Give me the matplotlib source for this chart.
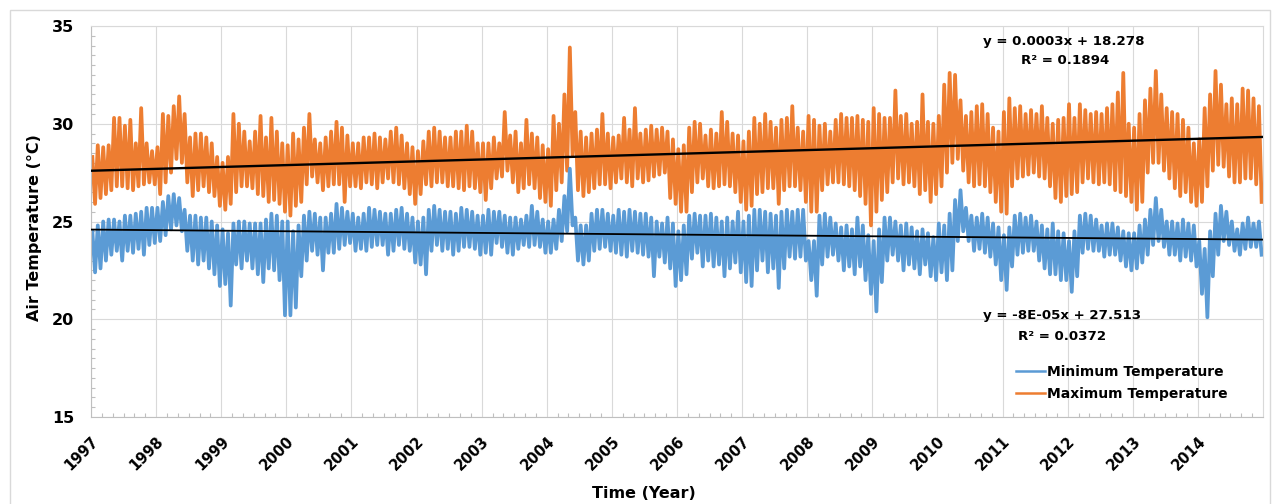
import numpy as np
import matplotlib.pyplot as plt
import matplotlib.patches as mpatches
from matplotlib.lines import Line2D

plt.rcParams['font.family'] = ['DejaVu Sans']
plt.rcParams['font.weight'] = 'bold'

years = list(range(1997, 2015))

# monthly extremes (deg C), one row per year, Jan..Dec
max_hi = [
    [28.3, 28.9, 28.8, 28.9, 30.3, 30.3, 29.9, 30.2, 29.0, 30.8, 29.0, 28.6],
    [28.8, 30.5, 30.4, 30.9, 31.4, 30.5, 29.3, 29.5, 29.5, 29.3, 29.0, 28.3],
    [28.0, 28.3, 30.5, 30.0, 29.6, 29.1, 29.6, 30.4, 29.3, 30.3, 29.6, 29.0],
    [28.9, 29.5, 29.2, 29.8, 30.5, 29.2, 29.0, 29.3, 29.6, 30.1, 29.8, 29.4],
    [29.0, 29.0, 29.3, 29.3, 29.5, 29.3, 29.2, 29.6, 29.8, 29.4, 29.0, 28.8],
    [28.6, 29.1, 29.6, 29.8, 29.6, 29.3, 29.3, 29.6, 29.6, 29.9, 29.6, 29.0],
    [29.0, 29.0, 29.3, 29.0, 30.6, 29.4, 29.6, 29.0, 30.2, 29.5, 29.3, 28.9],
    [28.7, 30.4, 30.0, 31.5, 33.9, 30.6, 29.6, 29.3, 29.5, 29.7, 30.5, 29.5],
    [29.3, 29.4, 30.3, 29.7, 30.8, 29.5, 29.7, 29.9, 29.7, 29.8, 29.6, 29.2],
    [28.7, 28.9, 29.8, 30.1, 30.0, 29.4, 29.7, 29.5, 30.6, 30.1, 29.5, 29.4],
    [29.1, 29.6, 30.3, 30.0, 30.5, 30.1, 29.8, 30.2, 30.3, 30.9, 29.8, 29.6],
    [30.4, 30.2, 29.9, 30.0, 29.6, 30.2, 30.5, 30.3, 30.3, 30.4, 30.2, 30.1],
    [30.8, 30.5, 30.3, 30.3, 31.7, 30.4, 30.5, 30.0, 30.1, 31.5, 30.1, 30.0],
    [30.4, 32.0, 32.6, 32.5, 31.2, 30.4, 30.6, 30.9, 31.0, 30.5, 29.8, 29.6],
    [30.6, 31.3, 30.8, 30.9, 30.5, 30.7, 30.5, 30.9, 30.3, 30.0, 30.2, 30.3],
    [31.0, 30.3, 31.0, 30.7, 30.5, 30.6, 30.5, 30.8, 31.0, 31.6, 32.6, 30.0],
    [29.8, 30.5, 31.2, 31.8, 32.7, 31.5, 30.8, 30.6, 30.5, 30.2, 29.8, 29.0],
    [29.2, 30.8, 31.5, 32.7, 32.0, 31.0, 31.3, 31.0, 31.8, 31.7, 31.3, 30.9],
]
max_lo = [
    [25.9, 26.2, 26.4, 26.6, 26.8, 26.8, 26.7, 26.6, 26.8, 26.9, 27.0, 26.9],
    [26.4, 27.0, 27.5, 28.2, 28.0, 27.0, 26.3, 26.6, 26.8, 26.5, 26.3, 25.8],
    [25.6, 25.9, 26.5, 26.8, 26.8, 26.7, 26.4, 26.3, 26.0, 26.1, 25.9, 25.5],
    [25.3, 25.8, 26.0, 26.9, 27.3, 27.0, 26.6, 26.8, 26.9, 26.9, 26.0, 26.8],
    [26.8, 26.7, 27.0, 26.9, 26.7, 27.0, 27.2, 27.0, 26.9, 26.7, 26.4, 25.9],
    [26.4, 26.9, 26.8, 27.0, 27.0, 26.8, 26.8, 26.7, 26.6, 26.8, 26.7, 26.5],
    [26.1, 26.7, 27.2, 27.3, 27.6, 27.0, 26.5, 26.7, 26.9, 26.7, 26.2, 26.0],
    [25.8, 26.6, 27.0, 27.6, 28.4, 26.6, 26.3, 26.5, 26.7, 26.9, 26.9, 26.7],
    [27.0, 27.2, 27.0, 26.8, 27.2, 27.0, 27.1, 27.3, 27.4, 27.5, 26.2, 25.9],
    [25.5, 25.5, 26.5, 27.0, 27.2, 26.8, 26.7, 26.8, 26.9, 26.8, 26.5, 26.0],
    [25.6, 25.8, 26.4, 26.5, 26.7, 26.7, 25.9, 26.6, 26.8, 26.8, 26.6, 26.0],
    [25.5, 25.5, 26.6, 26.9, 27.0, 27.0, 26.9, 26.8, 26.6, 26.3, 25.9, 24.8],
    [25.5, 26.1, 26.5, 27.0, 27.2, 26.9, 27.0, 26.8, 26.4, 26.6, 26.0, 26.4],
    [26.8, 27.5, 28.0, 28.2, 27.6, 27.0, 26.8, 26.9, 26.8, 26.5, 26.0, 25.5],
    [25.4, 26.8, 27.2, 27.3, 27.4, 27.5, 27.3, 27.2, 26.8, 26.2, 26.0, 26.3],
    [26.4, 26.5, 27.0, 27.2, 27.0, 26.9, 27.0, 26.9, 26.6, 26.5, 26.3, 26.0],
    [25.6, 26.0, 27.5, 28.0, 28.0, 27.6, 27.2, 26.7, 26.3, 26.5, 26.0, 25.8],
    [26.0, 26.8, 27.6, 27.9, 27.8, 27.3, 27.0, 27.0, 27.2, 27.2, 26.9, 26.0],
]
min_hi = [
    [24.5, 24.8, 25.0, 25.1, 25.1, 25.0, 25.3, 25.3, 25.4, 25.5, 25.7, 25.7],
    [25.7, 26.0, 26.3, 26.4, 26.2, 25.6, 25.3, 25.3, 25.2, 25.2, 25.0, 24.8],
    [24.6, 24.4, 24.9, 25.0, 25.0, 24.9, 24.9, 24.9, 25.1, 25.4, 25.3, 25.0],
    [25.0, 24.5, 24.8, 25.3, 25.5, 25.4, 25.2, 25.2, 25.4, 25.9, 25.7, 25.5],
    [25.4, 25.2, 25.4, 25.7, 25.6, 25.5, 25.4, 25.4, 25.6, 25.7, 25.4, 25.2],
    [25.0, 25.2, 25.6, 25.8, 25.6, 25.5, 25.5, 25.4, 25.7, 25.6, 25.5, 25.3],
    [25.3, 25.6, 25.5, 25.5, 25.3, 25.2, 25.2, 25.1, 25.3, 25.8, 25.5, 25.1],
    [25.0, 25.1, 25.6, 26.3, 27.7, 25.2, 24.8, 24.8, 25.4, 25.6, 25.6, 25.4],
    [25.3, 25.6, 25.5, 25.6, 25.5, 25.4, 25.4, 25.2, 25.0, 24.9, 25.2, 24.9],
    [24.5, 24.8, 25.3, 25.4, 25.3, 25.3, 25.4, 25.2, 25.0, 25.2, 25.0, 25.5],
    [25.0, 25.3, 25.6, 25.6, 25.5, 25.4, 25.3, 25.5, 25.6, 25.5, 25.6, 25.6],
    [24.0, 24.0, 25.3, 25.4, 25.2, 24.9, 24.7, 24.8, 24.6, 25.2, 24.8, 24.3],
    [24.0, 24.6, 25.2, 25.2, 25.0, 24.8, 24.9, 24.7, 24.5, 24.6, 24.4, 24.2],
    [24.9, 24.8, 25.4, 26.1, 26.6, 25.7, 25.3, 25.2, 25.4, 25.2, 24.9, 24.7],
    [24.3, 24.7, 25.3, 25.4, 25.2, 25.3, 25.0, 24.8, 24.6, 24.9, 24.5, 24.4],
    [24.0, 24.5, 25.3, 25.4, 25.3, 25.1, 24.8, 24.9, 24.9, 24.7, 24.5, 24.4],
    [24.4, 24.8, 25.1, 25.6, 26.2, 25.6, 25.0, 25.0, 24.9, 25.1, 24.9, 24.8],
    [24.0, 23.6, 24.5, 25.4, 25.8, 25.5, 25.0, 24.6, 24.9, 25.2, 24.9, 25.0],
]
min_lo = [
    [22.4, 22.6, 23.0, 23.3, 23.5, 23.0, 23.5, 23.4, 23.6, 23.3, 23.8, 23.9],
    [24.0, 24.3, 24.6, 24.8, 24.5, 23.5, 23.0, 22.8, 23.0, 22.6, 22.3, 21.7],
    [21.8, 20.7, 22.8, 22.6, 23.0, 22.6, 22.3, 21.9, 22.6, 22.5, 22.0, 20.2],
    [20.2, 20.6, 22.2, 23.0, 23.5, 23.3, 22.5, 23.4, 23.4, 23.6, 23.8, 23.9],
    [23.5, 23.6, 23.5, 23.7, 23.8, 23.8, 23.3, 23.5, 23.8, 23.6, 23.5, 22.9],
    [22.8, 22.3, 23.5, 23.8, 23.5, 23.6, 23.3, 23.5, 23.7, 23.7, 23.6, 23.3],
    [23.4, 23.3, 23.9, 23.7, 23.4, 23.3, 23.6, 23.8, 23.7, 23.8, 23.7, 23.4],
    [23.4, 23.6, 24.0, 24.5, 24.8, 23.0, 22.8, 23.0, 23.5, 23.6, 23.7, 23.5],
    [23.4, 23.3, 23.2, 23.5, 23.4, 23.3, 23.2, 22.2, 23.2, 22.9, 22.6, 21.7],
    [22.0, 22.3, 23.1, 23.4, 22.7, 23.0, 22.7, 22.8, 22.2, 22.6, 22.9, 22.4],
    [21.9, 21.7, 22.5, 23.0, 22.4, 22.6, 21.6, 22.6, 23.2, 23.1, 23.2, 23.0],
    [22.0, 21.2, 22.8, 23.2, 23.3, 23.0, 22.5, 22.7, 22.3, 22.7, 22.0, 21.3],
    [20.4, 21.9, 23.0, 23.3, 23.0, 22.5, 22.8, 22.6, 22.3, 22.8, 22.2, 22.0],
    [22.4, 22.0, 22.5, 24.0, 24.5, 24.0, 23.5, 23.6, 23.4, 23.2, 22.8, 22.0],
    [21.5, 22.7, 23.3, 23.4, 23.5, 23.5, 23.0, 22.6, 22.3, 22.3, 22.0, 22.0],
    [21.4, 22.2, 23.4, 23.6, 23.5, 23.5, 23.2, 23.3, 23.3, 23.0, 22.7, 22.5],
    [22.6, 22.9, 23.3, 23.8, 24.0, 23.7, 23.3, 23.3, 23.0, 23.2, 23.0, 22.7],
    [21.3, 20.1, 22.2, 23.3, 24.0, 23.8, 23.5, 23.3, 23.6, 23.7, 23.7, 23.3],
]

# linear trendlines (x = Excel date serial)
max_trend = (0.000263, 18.278)
min_trend = (-0.000078, 27.35)
max_eq = ["y = 0.0003x + 18.278", "R² = 0.1894"]
min_eq = ["y = -8E-05x + 27.513", "R² = 0.0372"]

BLUE = '#5B9BD5'
ORANGE = '#ED7D31'
GRID = '#d9d9d9'


def zigzag(hi, lo):
    # each month: its high, then its low
    hi = np.ravel(hi)
    lo = np.ravel(lo)
    m = np.arange(hi.size)
    t = np.empty(2 * hi.size)
    v = np.empty(2 * hi.size)
    t[0::2] = years[0] + (m + 0.25) / 12
    t[1::2] = years[0] + (m + 0.75) / 12
    v[0::2] = hi
    v[1::2] = lo
    return t, v


def serial(t):
    return 35431 + (t - 1997) * 365.25


W, H = 1276, 504
fig = plt.figure(figsize=(W / 100, H / 100), dpi=100)
fig.patches.append(mpatches.Rectangle((10 / W, -0.01), 1260 / W, 1 - 10 / H + 0.01,
                                      transform=fig.transFigure, fill=False,
                                      edgecolor=GRID, linewidth=1))
ax = fig.add_axes([91 / W, 87 / H, (1263 - 91) / W, (417 - 26) / H])

t, v = zigzag(max_hi, max_lo)
ax.plot(t, v, color=ORANGE, linewidth=2.7, solid_joinstyle='round', zorder=2)
t2, v2 = zigzag(min_hi, min_lo)
ax.plot(t2, v2, color=BLUE, linewidth=2.7, solid_joinstyle='round', zorder=2)

tt = np.array([years[0], years[-1] + 1])
ax.plot(tt, max_trend[0] * serial(tt) + max_trend[1], color='black', linewidth=1.7, zorder=3)
ax.plot(tt, min_trend[0] * serial(tt) + min_trend[1], color='black', linewidth=1.3, zorder=3)

ax.set_xlim(1997, 2015)
ax.set_ylim(15, 35)
ax.set_xticks(years)
ax.set_xticklabels([str(y) for y in years], rotation=45, ha='right', va='top',
                   rotation_mode='anchor', fontsize=10.5)
ax.set_xticks(np.arange(1997, 2015, 1 / 6), minor=True)
ax.set_yticks([15, 20, 25, 30, 35])
ax.set_yticks(np.arange(15, 35, 0.5), minor=True)
ax.tick_params(axis='y', labelsize=11.5, length=0, pad=12)
ax.tick_params(axis='x', length=0, pad=12)
ax.tick_params(which='minor', direction='in', length=3, color='#bfbfbf', width=0.8)
ax.grid(True, which='major', color=GRID, linewidth=0.8, zorder=0)
ax.set_axisbelow(True)
for s in ['top', 'right']:
    ax.spines[s].set_color(GRID)
    ax.spines[s].set_linewidth(0.8)
for s in ['left', 'bottom']:
    ax.spines[s].set_color('#bfbfbf')
    ax.spines[s].set_linewidth(0.8)

fig.text(35 / W, 1 - 228 / H, 'Air Temperature (°C)', rotation=90, ha='center',
         va='center', fontsize=11.5)
fig.text(644 / W, 1 - 493 / H, 'Time (Year)', ha='center', va='center', fontsize=11.5)

for txt, (x, y) in zip(max_eq + min_eq, [(1064, 42), (1065, 61), (1062, 315), (1062, 336)]):
    fig.text(x / W, 1 - y / H, txt, ha='center', va='center', fontsize=9.6)

handles = [Line2D([], [], color=BLUE, linewidth=1.8), Line2D([], [], color=ORANGE, linewidth=1.8)]
labels = ['Minimum Temperature', 'Maximum Temperature']
ax.legend(handles, labels, loc='center left',
          bbox_to_anchor=((1016 - 91) / (1263 - 91), (417 - 383) / 391),
          frameon=False, fontsize=10, handlelength=2.1, handletextpad=0.1,
          labelspacing=0.55, borderaxespad=0, borderpad=0)

fig.savefig('out.png', dpi=100)
